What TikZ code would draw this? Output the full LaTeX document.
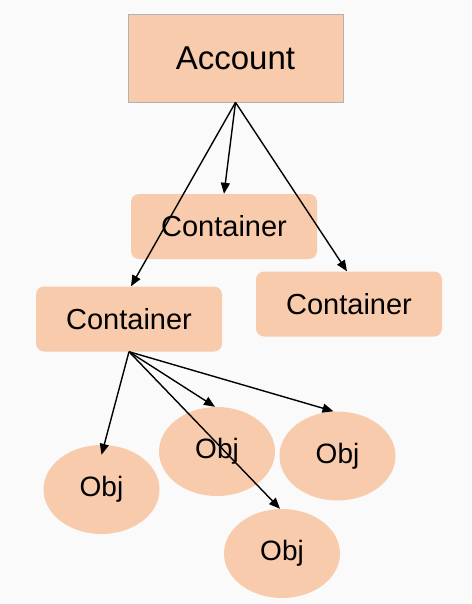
\documentclass[tikz,border=0pt]{standalone}
\usepackage{fontspec}
\setmainfont{Liberation Sans}
\usetikzlibrary{arrows.meta,shapes.geometric}
\definecolor{peach}{HTML}{F8CBAD}
\definecolor{bg}{HTML}{FAFAFA}
\begin{document}
\begin{tikzpicture}[
	x = 1pt, y = -1pt,
	box/.style = {fill=peach, minimum width=186pt, minimum height=65pt, rounded corners=8pt, inner sep=0pt, font=\fontsize{29}{34}\selectfont},
	obj/.style = {ellipse, fill=peach, minimum width=116pt, minimum height=89pt, inner sep=0pt, font=\fontsize{28}{33}\selectfont},
	link/.style = {-{Triangle[length=11pt,width=9pt]}, line width=1.4pt}]

	\fill[bg] (0,0) rectangle (471,604);
	\useasboundingbox (0,0) rectangle (471,604);

	\node[fill=peach, draw=black!30, line width=0.8pt, minimum width=215pt, minimum height=88pt, inner sep=0pt, font=\fontsize{33}{40}\selectfont] (acct) at (235.5,58) {Account};

	\node[box] (cmid) at (224,226.5) {Container};
	\node[box] (cleft) at (129,319) {Container};
	\node[box] (cright) at (349,304) {Container};

	\node[obj] (o1) at (101.5,489.5) {Obj};
	\node[obj] (o2) at (217,451.5) {Obj};
	\node[obj] (o3) at (337.5,456) {Obj};
	\node[obj] (o4) at (282,553.5) {Obj};

	\draw[link] (acct.south) -- (cmid.north);
	\draw[link] (acct.south) -- ([xshift=2pt]cleft.north);
	\draw[link] (acct.south) -- ([xshift=-2pt]cright.north);

	\draw[link] (cleft.south) -- ([yshift=-10pt]o1.north);
	\draw[link] (cleft.south) -- ([xshift=-2pt]o2.north);
	\draw[link] (cleft.south) -- ([xshift=-4pt]o3.north);
	\draw[link] (cleft.south) -- ([xshift=-2pt]o4.north);

\end{tikzpicture}
\end{document}
